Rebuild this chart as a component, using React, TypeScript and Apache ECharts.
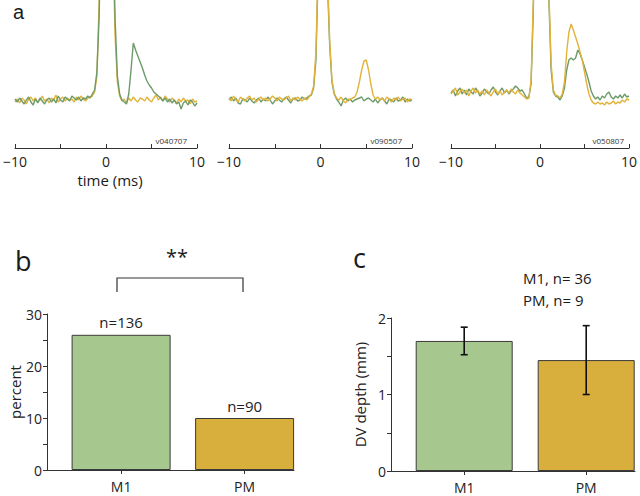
import React, { useEffect, useRef } from "react";
import * as echarts from "echarts";

// ---------- data ----------
// sampling grid of the spike-triggered traces (ms)
const TIME_MS: number[] = Array.from({ length: 81 }, (_, i) => -10 + i * 0.25);

// panel a, recording v040707
const A1_GREEN = [
  0.05, -0.1, 0.1, -0.05, -0.2, 0.0, 0.15, -0.1, -0.25, 0.05,
  -0.15, 0.1, -0.05, -0.2, 0.0, 0.1, -0.1, 0.05, -0.15, 0.2,
  0.0, -0.1, 0.15, 0.05, -0.05, 0.2, 0.1, 0.0, 0.15, -0.05,
  0.1, 0.05, 0.2, 0.1, 0.3, 0.5,
  1.4, 4.2, 11, 14, 16, 16, 14, 9, 4.0, 1.2, 0.3,
  0.0, -0.1, -0.2, 0.3, 1.5, 2.85, 2.5, 2.2, 1.9, 1.6,
  1.25, 0.95, 0.75, 0.6, 0.4, 0.3, 0.2, 0.1, -0.05, 0.1,
  -0.1, 0.05, -0.15, 0.0, -0.2, -0.1, -0.45, -0.15, -0.05, -0.25,
  0.0, -0.1, -0.3, -0.15,
];
const A1_YELLOW = [
  -0.1, 0.05, -0.15, 0.1, 0.0, -0.2, 0.05, 0.15, -0.05, 0.1,
  -0.1, 0.0, 0.2, -0.05, 0.05, -0.15, 0.1, 0.0, 0.25, -0.1,
  0.05, 0.15, -0.05, 0.1, 0.0, 0.05, -0.1, 0.15, 0.0, 0.2,
  0.05, -0.05, 0.1, 0.15, 0.2, 0.4,
  1.2, 5, 12, 16, 16, 15, 12, 8, 3.2, 0.9, 0.2,
  -0.05, 0.05, -0.15, 0.1, -0.05, 0.15, 0.0, -0.1, 0.1, 0.05,
  -0.05, 0.15, 0.0, -0.1, 0.1, 0.25, 0.0, 0.15, -0.05, 0.2,
  0.05, -0.1, 0.1, 0.0, -0.15, 0.05, -0.1, 0.1, -0.05, 0.0,
  -0.2, 0.05, -0.1, -0.05,
];

// panel a, recording v090507
const A2_GREEN = [
  0.0, 0.15, -0.05, 0.1, -0.15, -0.2, 0.05, 0.0, -0.1, 0.1,
  -0.05, -0.15, 0.0, 0.1, -0.1, 0.05, -0.05, 0.15, 0.0, -0.2,
  -0.05, 0.1, 0.0, -0.1, 0.05, 0.15, 0.0, -0.15, 0.05, 0.1,
  -0.05, 0.0, 0.15, 0.05, 0.1, 0.2, 0.25,
  0.6, 2.0, 6.5, 14, 18, 15, 6, 2.8, 0.9, 0.3,
  0.05, -0.1, -0.3, 0.0, 0.1, -0.05, 0.05, -0.1, 0.0, 0.05,
  0.1, 0.15, -0.05, 0.05, 0.1, 0.0, -0.1, 0.05, -0.15, 0.0,
  0.1, -0.05, -0.2, 0.05, 0.0, -0.1, 0.1, -0.05, 0.0, 0.15,
  -0.1, 0.05, -0.05, 0.0,
];
const A2_YELLOW = [
  0.1, -0.05, 0.2, 0.0, -0.1, 0.15, 0.05, -0.05, 0.1, 0.2,
  0.0, 0.1, -0.1, 0.05, 0.15, 0.0, 0.1, -0.05, 0.05, 0.2,
  0.1, -0.05, 0.15, 0.05, 0.0, 0.1, 0.2, -0.05, 0.1, 0.0,
  0.15, 0.05, -0.05, 0.1, 0.0, 0.15, 0.3,
  0.7, 2.4, 7, 15, 18, 14, 6.5, 3.0, 1.0, 0.35,
  0.1, 0.0, 0.15, -0.05, -0.15, 0.05, 0.0, 0.1, 0.15, 0.4,
  0.9, 1.5, 1.95, 2.0, 1.5, 0.8, 0.25, 0.05, 0.15, 0.0,
  0.1, -0.05, 0.15, 0.05, -0.1, 0.1, 0.0, 0.15, -0.05, 0.05,
  0.1, -0.1, 0.05, 0.0,
];

// panel a, recording v050807
const A3_GREEN = [
  0.35, 0.5, 0.2, 0.45, 0.6, 0.3, 0.5, 0.25, 0.55, 0.4,
  0.3, 0.6, 0.45, 0.2, 0.35, 0.55, 0.4, 0.3, 0.5, 0.65,
  0.4, 0.25, 0.45, 0.6, 0.35, 0.5, 0.3, 0.45, 0.55, 0.7,
  0.6, 0.45, 0.5, 0.3, 0.1, 0.15,
  0.8, 4.5, 12, 18, 18, 16, 14, 9, 5, 1.5, 0.4,
  0.2, 0.15, 0.0, 0.2, 0.6, 1.5, 2.0, 2.1, 2.0, 2.1,
  2.5, 2.3, 2.0, 1.65, 1.3, 0.9, 0.45, 0.2, 0.05, 0.15,
  0.0, 0.2, 0.1, 0.3, 0.4, 0.15, 0.05, 0.2, 0.1, 0.25,
  0.1, 0.3, 0.15, 0.2,
];
const A3_YELLOW = [
  0.3, 0.45, 0.6, 0.25, 0.4, 0.55, 0.35, 0.5, 0.2, 0.45,
  0.6, 0.35, 0.5, 0.3, 0.45, 0.25, 0.5, 0.35, 0.2, 0.4,
  0.55, 0.3, 0.45, 0.25, 0.4, 0.5, 0.35, 0.55, 0.4, 0.3,
  0.5, 0.35, 0.25, 0.15, 0.05, 0.1,
  1.0, 5, 13, 18, 18, 16, 14, 9.5, 5.5, 1.8, 0.5,
  0.25, 0.2, 0.1, 0.3, 0.9, 2.4, 3.4, 3.8, 3.5, 3.15,
  2.8, 2.4, 2.0, 1.4, 0.8, 0.3, 0.0, -0.15, -0.2, -0.1,
  -0.2, -0.15, -0.25, -0.1, -0.2, -0.15, -0.05, -0.2, -0.1, -0.15,
  0.0, -0.1, 0.05, 0.0,
];

const RECORDING_IDS = ["v040707", "v090507", "v050807"];
const TIME_TICKS = [-10, 0, 10];

// panel b
const AREAS = ["M1", "PM"];
const PERCENT = [26, 10];
const COUNTS_B = [136, 90];

// panel c
const DEPTH_MEAN = [1.7, 1.45];
const DEPTH_ERR = [0.18, 0.45];
const COUNTS_C = [36, 9];

// ---------- style ----------
const FONT = "Open Sans";
const GREEN_TRACE = "#6d9a69";
const YELLOW_TRACE = "#e2b33a";
const BAR_COLORS = ["#a6c78e", "#d8af3d"];
const AXIS = "#333";
const POS = [0.3, 0.8]; // bar centres on the 0..1 panel axis

export default function App() {
  const ref = useRef<HTMLDivElement>(null);

  useEffect(() => {
    if (!ref.current) return;
    const chart = echarts.init(ref.current, null, { renderer: "svg" });

    const traceGrids = [14, 229, 451];
    const grids: any[] = traceGrids.map((l) => ({ left: l, width: 183, top: 0, height: 148 }));
    grids.push({ left: 47, width: 247, top: 314, height: 156 });
    grids.push({ left: 391, width: 244, top: 318, height: 153 });

    const lab = { fontFamily: FONT, fontSize: 14, color: "#222" };

    const xAxes: any[] = traceGrids.map((_, i) => ({
      type: "value",
      gridIndex: i,
      min: -10,
      max: 10,
      interval: 5,
      axisLine: { onZero: false, lineStyle: { color: AXIS, width: 1 } },
      axisTick: { inside: true, length: 4, lineStyle: { color: AXIS } },
      splitLine: { show: false },
      axisLabel: {
        ...lab,
        margin: 6,
        formatter: (v: number) =>
          TIME_TICKS.includes(v) ? (v < 0 ? "\u2212" + Math.abs(v) : String(v)) : "",
      },
    }));
    const yAxes: any[] = traceGrids.map((_, i) => ({
      type: "value",
      gridIndex: i,
      min: -2.4,
      max: 5,
      show: false,
    }));

    const catAxis = (gi: number) => ({
      type: "value",
      gridIndex: gi,
      min: 0,
      max: 1,
      axisLine: { onZero: false, lineStyle: { color: AXIS } },
      axisTick: { show: true, length: 4, customValues: POS, lineStyle: { color: AXIS } },
      splitLine: { show: false },
      axisLabel: {
        ...lab,
        margin: 9,
        customValues: POS,
        formatter: (v: number) => AREAS[POS.indexOf(v)] ?? "",
      },
    });
    xAxes.push(catAxis(3));
    xAxes.push(catAxis(4));

    yAxes.push({
      type: "value",
      gridIndex: 3,
      min: 0,
      max: 30,
      interval: 10,
      name: "percent",
      nameLocation: "middle",
      nameRotate: 90,
      nameGap: 25,
      nameTextStyle: { fontFamily: FONT, fontSize: 15, color: "#222" },
      axisLine: { show: true, lineStyle: { color: AXIS } },
      axisTick: { show: true, length: 4, lineStyle: { color: AXIS } },
      minorTick: { show: true, splitNumber: 2, length: 4, lineStyle: { color: AXIS } },
      splitLine: { show: false },
      axisLabel: { ...lab, margin: 5 },
    });
    yAxes.push({
      type: "value",
      gridIndex: 4,
      min: 0,
      max: 2,
      interval: 1,
      name: "DV depth (mm)",
      nameLocation: "middle",
      nameRotate: 90,
      nameGap: 24,
      nameTextStyle: { fontFamily: FONT, fontSize: 15, color: "#222" },
      axisLine: { show: true, lineStyle: { color: AXIS } },
      axisTick: { show: true, length: 4, lineStyle: { color: AXIS } },
      minorTick: { show: true, splitNumber: 2, length: 4, lineStyle: { color: AXIS } },
      splitLine: { show: false },
      axisLabel: { ...lab, margin: 5 },
    });

    const trace = (vals: number[], gi: number, color: string) => ({
      type: "line",
      xAxisIndex: gi,
      yAxisIndex: gi,
      data: TIME_MS.map((t, i) => [t, vals[i]]),
      showSymbol: false,
      silent: true,
      clip: true,
      lineStyle: { color, width: 1.4 },
    });

    const series: any[] = [
      trace(A1_YELLOW, 0, YELLOW_TRACE),
      trace(A1_GREEN, 0, GREEN_TRACE),
      trace(A2_GREEN, 1, GREEN_TRACE),
      trace(A2_YELLOW, 1, YELLOW_TRACE),
      trace(A3_GREEN, 2, GREEN_TRACE),
      trace(A3_YELLOW, 2, YELLOW_TRACE),
      {
        type: "bar",
        xAxisIndex: 3,
        yAxisIndex: 3,
        barWidth: 99,
        data: PERCENT.map((v, i) => ({
          value: [POS[i], v],
          itemStyle: { color: BAR_COLORS[i], borderColor: "#3a3a3a", borderWidth: 1 },
        })),
        label: {
          show: true,
          position: "top",
          distance: 5,
          fontFamily: FONT,
          fontSize: 15,
          color: "#222",
          formatter: (p: any) => "n=" + COUNTS_B[p.dataIndex],
        },
      },
      {
        type: "bar",
        xAxisIndex: 4,
        yAxisIndex: 4,
        barWidth: 97,
        data: DEPTH_MEAN.map((v, i) => ({
          value: [POS[i], v],
          itemStyle: { color: BAR_COLORS[i], borderColor: "#3a3a3a", borderWidth: 1 },
        })),
      },
      {
        type: "custom",
        xAxisIndex: 4,
        yAxisIndex: 4,
        z: 10,
        data: DEPTH_MEAN.map((m, i) => [POS[i], m - DEPTH_ERR[i], m + DEPTH_ERR[i]]),
        encode: { x: 0, y: [1, 2] },
        renderItem: (_p: any, api: any) => {
          const lo = api.coord([api.value(0), api.value(1)]);
          const hi = api.coord([api.value(0), api.value(2)]);
          const w = 3.5;
          const st = { stroke: "#111", lineWidth: 1.6 };
          return {
            type: "group",
            children: [
              { type: "line", shape: { x1: hi[0], y1: hi[1], x2: lo[0], y2: lo[1] }, style: st },
              { type: "line", shape: { x1: hi[0] - w, y1: hi[1], x2: hi[0] + w, y2: hi[1] }, style: st },
              { type: "line", shape: { x1: lo[0] - w, y1: lo[1], x2: lo[0] + w, y2: lo[1] }, style: st },
            ],
          };
        },
      },
    ];

    const txt = (text: string, x: number, y: number, size: number, align = "left", extra: any = {}) => ({
      type: "text",
      x,
      y,
      silent: true,
      style: {
        text,
        fontFamily: FONT,
        fontSize: size,
        fill: "#1a1a1a",
        align,
        verticalAlign: "middle",
        ...extra,
      },
    });

    const graphic: any[] = [
      txt("a", 13, 12, 20, "left", { fontFamily: "Liberation Sans" }),
      txt("b", 15, 260, 27),
      txt("c", 353, 257, 27),
      txt("time (ms)", 110, 180, 15, "center"),
      ...RECORDING_IDS.map((id, i) => txt(id, traceGrids[i] + 173, 140, 8, "right", { fill: "#333" })),
      txt("**", 177, 256, 20, "center"),
      {
        type: "polyline",
        silent: true,
        shape: { points: [[117, 292], [117, 278], [243, 278], [243, 292]] },
        style: { stroke: "#333", lineWidth: 1.2, fill: null },
      },
      txt(`${AREAS[0]}, n= ${COUNTS_C[0]}`, 523, 278, 15),
      txt(`${AREAS[1]}, n= ${COUNTS_C[1]}`, 523, 300, 15),
    ];

    chart.setOption({
      animation: false,
      textStyle: { fontFamily: FONT },
      grid: grids,
      xAxis: xAxes,
      yAxis: yAxes,
      series,
      graphic,
    });

    return () => chart.dispose();
  }, []);

  return (
    <div
      ref={ref}
      style={{ position: "fixed", left: 0, top: 0, width: 640, height: 496, background: "#fff" }}
    />
  );
}
